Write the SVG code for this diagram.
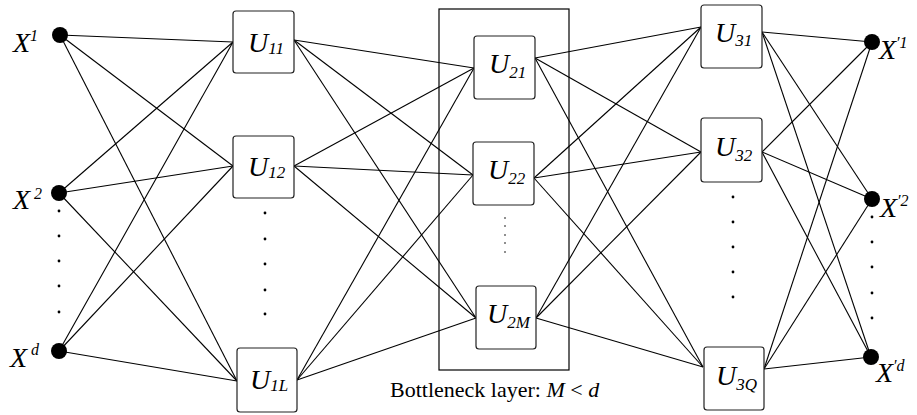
<svg xmlns="http://www.w3.org/2000/svg" width="917" height="415" viewBox="0 0 917 415">
<style>
.box{fill:#fff;stroke:#222;stroke-width:1.2}
.io{fill:#000}
.dot{fill:#000}
.lbl{font-family:"Liberation Serif",serif;font-style:italic;font-size:28px;fill:#000}
.sub{font-size:17px}
.sup{font-size:16px}
.cap{font-family:"Liberation Serif",serif;font-size:22px;fill:#000}
#conn line{stroke:#000;stroke-width:1.1}
</style>
<rect x="439" y="9" width="130" height="361" fill="none" stroke="#000" stroke-width="1.2"/>
<g id="conn">
<line x1="60" y1="35" x2="233" y2="42"/><line x1="60" y1="35" x2="233" y2="166"/><line x1="60" y1="35" x2="237" y2="381"/>
<line x1="59" y1="193" x2="233" y2="42"/><line x1="59" y1="193" x2="233" y2="166"/><line x1="59" y1="193" x2="237" y2="381"/>
<line x1="59" y1="351" x2="233" y2="42"/><line x1="59" y1="351" x2="233" y2="166"/><line x1="59" y1="351" x2="237" y2="381"/>
<line x1="294" y1="40" x2="474" y2="68"/><line x1="294" y1="40" x2="473" y2="175"/><line x1="294" y1="40" x2="476" y2="318"/>
<line x1="294" y1="166" x2="474" y2="68"/><line x1="294" y1="166" x2="473" y2="175"/><line x1="294" y1="166" x2="476" y2="318"/>
<line x1="297" y1="380" x2="474" y2="68"/><line x1="297" y1="380" x2="473" y2="175"/><line x1="297" y1="380" x2="476" y2="318"/>
<line x1="535" y1="58" x2="701" y2="27"/><line x1="535" y1="58" x2="701" y2="152"/><line x1="535" y1="58" x2="703" y2="367"/>
<line x1="534" y1="178" x2="701" y2="27"/><line x1="534" y1="178" x2="701" y2="152"/><line x1="534" y1="178" x2="703" y2="367"/>
<line x1="536" y1="318" x2="701" y2="27"/><line x1="536" y1="318" x2="701" y2="152"/><line x1="536" y1="318" x2="703" y2="367"/>
<line x1="762" y1="32" x2="872" y2="42"/><line x1="762" y1="32" x2="872" y2="199"/><line x1="762" y1="32" x2="871" y2="357"/>
<line x1="762" y1="152" x2="872" y2="42"/><line x1="762" y1="152" x2="872" y2="199"/><line x1="762" y1="152" x2="871" y2="357"/>
<line x1="764" y1="369" x2="872" y2="42"/><line x1="764" y1="369" x2="872" y2="199"/><line x1="764" y1="369" x2="871" y2="357"/>
</g>
<g id="x1"><circle class="io" cx="60" cy="35" r="8"/><text class="lbl" x="13" y="52">X<tspan class="sup" dy="-11">1</tspan></text></g>
<g id="x2"><circle class="io" cx="59" cy="193" r="8"/><text class="lbl" x="13" y="209">X<tspan class="sup" dy="-10"> 2</tspan></text></g>
<g id="xd"><circle class="io" cx="59" cy="351" r="8"/><text class="lbl" x="10" y="367">X<tspan class="sup" dy="-12"> d</tspan></text></g>
<g id="in-dots"><circle class="dot" cx="59" cy="211" r="1.4"/><circle class="dot" cx="59" cy="236" r="1.4"/><circle class="dot" cx="59" cy="261" r="1.4"/><circle class="dot" cx="59" cy="286" r="1.4"/><circle class="dot" cx="59" cy="312" r="1.4"/></g>
<g id="u11"><rect class="box" x="233" y="11" width="61" height="62" rx="3"/><text class="lbl" x="248" y="52">U<tspan class="sub" dy="2">11</tspan></text></g>
<g id="u12"><rect class="box" x="233" y="136" width="61" height="62" rx="3"/><text class="lbl" x="248" y="176">U<tspan class="sub" dy="2">12</tspan></text></g>
<g id="u1l"><rect class="box" x="237" y="348" width="60" height="64" rx="3"/><text class="lbl" x="250" y="389">U<tspan class="sub" dy="2">1L</tspan></text></g>
<g id="l1-dots"><circle class="dot" cx="265" cy="213" r="1.4"/><circle class="dot" cx="265" cy="239" r="1.4"/><circle class="dot" cx="265" cy="264" r="1.4"/><circle class="dot" cx="265" cy="290" r="1.4"/><circle class="dot" cx="265" cy="314" r="1.4"/></g>
<g id="u21"><rect class="box" x="474" y="36" width="61" height="63" rx="3"/><text class="lbl" x="489" y="73">U<tspan class="sub" dy="5">21</tspan></text></g>
<g id="u22"><rect class="box" x="473" y="142" width="61" height="63" rx="3"/><text class="lbl" x="488" y="179">U<tspan class="sub" dy="5">22</tspan></text></g>
<g id="u2m"><rect class="box" x="476" y="286" width="60" height="63" rx="3"/><text class="lbl" x="487" y="323">U<tspan class="sub" dy="5">2M</tspan></text></g>
<g id="l2-dots"><circle class="dot" cx="505" cy="218" r="0.8"/><circle class="dot" cx="505" cy="226" r="0.8"/><circle class="dot" cx="505" cy="235" r="0.8"/><circle class="dot" cx="505" cy="243" r="0.8"/><circle class="dot" cx="505" cy="252" r="0.8"/></g>
<g id="u31"><rect class="box" x="701" y="5" width="61" height="63" rx="3"/><text class="lbl" x="715" y="42">U<tspan class="sub" dy="4">31</tspan></text></g>
<g id="u32"><rect class="box" x="701" y="118" width="61" height="64" rx="3"/><text class="lbl" x="715" y="156">U<tspan class="sub" dy="5">32</tspan></text></g>
<g id="u3q"><rect class="box" x="704" y="347" width="60" height="63" rx="3"/><text class="lbl" x="716" y="385">U<tspan class="sub" dy="5">3Q</tspan></text></g>
<g id="l3-dots"><circle class="dot" cx="733" cy="197" r="1.4"/><circle class="dot" cx="733" cy="222" r="1.4"/><circle class="dot" cx="733" cy="247" r="1.4"/><circle class="dot" cx="733" cy="272" r="1.4"/><circle class="dot" cx="733" cy="297" r="1.4"/></g>
<g id="y1"><circle class="io" cx="872" cy="42" r="8"/><text class="lbl" x="879" y="59">X<tspan class="sup" dy="-11">′1</tspan></text></g>
<g id="y2"><circle class="io" cx="872" cy="199" r="8"/><text class="lbl" x="880" y="217">X<tspan class="sup" dy="-11">′2</tspan></text></g>
<g id="yd"><circle class="io" cx="871" cy="357" r="8"/><text class="lbl" x="876" y="382">X<tspan class="sup" dy="-11">′d</tspan></text></g>
<g id="out-dots"><circle class="dot" cx="872" cy="217" r="1.4"/><circle class="dot" cx="872" cy="242" r="1.4"/><circle class="dot" cx="872" cy="267" r="1.4"/><circle class="dot" cx="872" cy="293" r="1.4"/><circle class="dot" cx="872" cy="318" r="1.4"/></g>
<text class="cap" x="390" y="397">Bottleneck layer: <tspan font-style="italic">M</tspan> &lt; <tspan font-style="italic">d</tspan></text>
</svg>
